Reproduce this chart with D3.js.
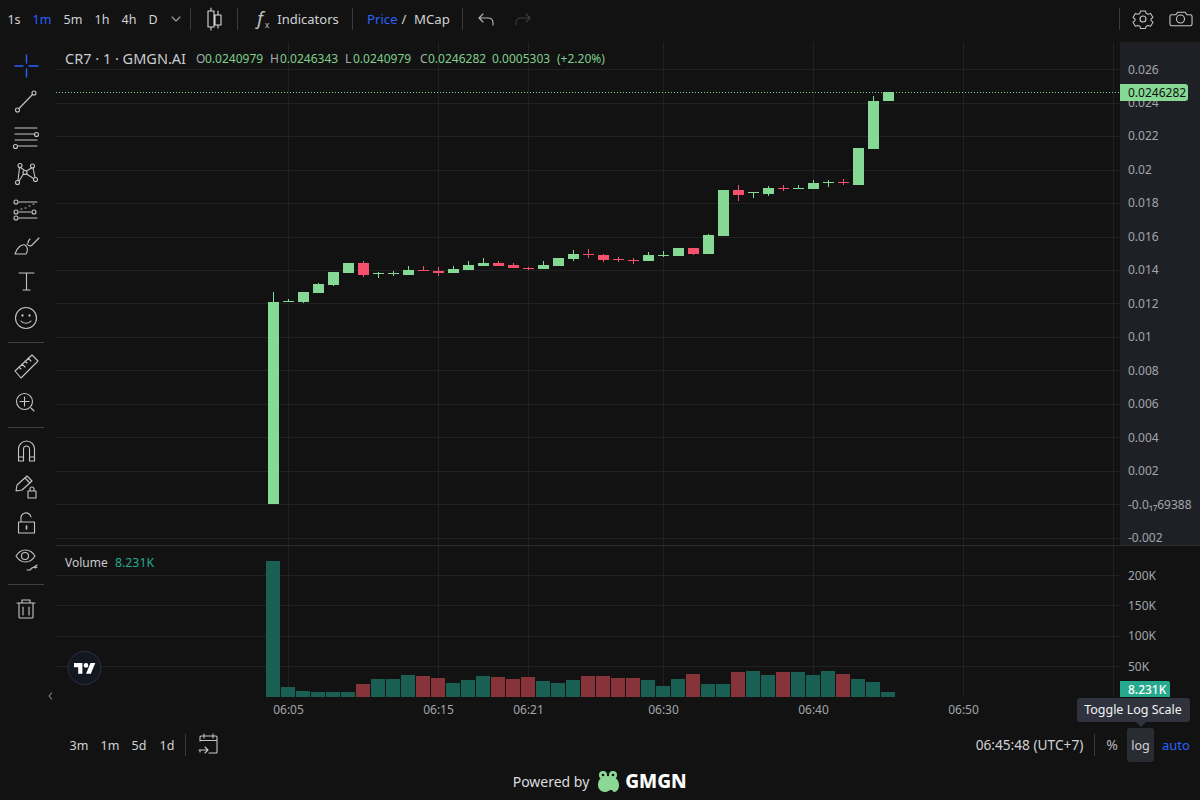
<!DOCTYPE html>
<html><head><meta charset="utf-8">
<script src="https://cdn.jsdelivr.net/npm/d3@7"></script>
<style>
html,body{margin:0;padding:0;background:#121212;overflow:hidden}
svg{display:block}
text{font-family:"Noto Sans",sans-serif}
.crisp{shape-rendering:crispEdges}
</style></head><body>
<svg id="c" width="1200" height="800"></svg>
<script>
// ---------- data ----------
const times = ["06:04","06:05","06:06","06:07","06:08","06:09","06:10","06:11","06:12","06:13","06:14","06:15","06:16","06:17","06:18","06:19","06:20","06:21","06:22","06:23","06:24","06:25","06:26","06:27","06:28","06:29","06:30","06:31","06:32","06:33","06:34","06:35","06:36","06:37","06:38","06:39","06:40","06:41","06:42","06:43","06:44","06:45"];
const opens  = [-6.9388e-19,.012104,.012104,.012641,.013119,.013837,.014434,.013777,.013777,.013717,.014016,.013956,.013837,.014016,.014255,.014434,.014315,.014136,.014076,.014255,.014674,.014972,.014913,.014674,.014614,.014554,.014853,.014853,.015331,.014972,.016048,.018798,.018618,.018559,.018917,.018897,.018857,.019216,.019236,.019097,.021249,.0240979];
const highs  = [.012701,.012283,.012701,.013239,.013897,.014434,.014554,.013897,.013956,.014255,.014255,.014195,.014255,.014554,.014733,.014554,.014434,.014195,.014554,.014733,.015212,.015271,.014972,.014793,.014733,.015092,.015152,.015331,.015331,.016168,.018798,.019097,.018678,.019037,.019097,.019097,.019395,.019395,.019455,.021308,.024417,.0246343];
const lows   = [-6.9388e-19,.012074,.012044,.012641,.013060,.013837,.013598,.013538,.013657,.013717,.013986,.013657,.013837,.014016,.014255,.014255,.014136,.014016,.014076,.014255,.014554,.014733,.014494,.014494,.014375,.014554,.014793,.014853,.014913,.014972,.016048,.018140,.018320,.018439,.018738,.018897,.018857,.018977,.019097,.019097,.021249,.0240979];
const closes = [.012104,.012163,.012701,.013179,.013897,.014434,.013717,.013797,.013797,.014016,.013986,.013837,.014076,.014315,.014434,.014255,.014136,.014076,.014315,.014733,.014972,.014913,.014614,.014614,.014554,.014913,.014883,.015331,.014972,.016108,.018798,.018499,.018638,.018917,.018897,.018917,.019216,.019236,.019216,.021308,.024118,.0246282];
const volumes = [224000,16000,9400,7700,7700,7700,21000,29000,29000,36000,34000,31000,22500,27500,34000,32500,29000,32500,26000,22500,27500,34500,34500,31500,31500,28000,18000,30000,38000,21500,21500,41000,43000,36000,41000,41000,36000,43000,38000,30000,25000,8231];
const priceTicks = [.026,.024,.022,.02,.018,.016,.014,.012,.01,.008,.006,.004,.002,-6.9388e-19,-.002];
const priceTickLabels = ["0.026","0.024","0.022","0.02","0.018","0.016","0.014","0.012","0.01","0.008","0.006","0.004","0.002","-0.0₁₇69388","-0.002"];
const volumeTicks = [50000,100000,150000,200000];
const volumeTickLabels = ["50K","100K","150K","200K"];
const timeTicks = ["06:05","06:15","06:21","06:30","06:40","06:50"];
const gridOnlyTimes = ["07:00"];
const lastPriceLabel = "0.0246282", lastVolumeLabel = "8.231K";
const intervals = ["1s","1m","5m","1h","4h","D"];
const ranges = ["3m","1m","5d","1d"];

// ---------- scales ----------
const UP="#86d994", DOWN="#f7506d", VUP="#1a5f53", VDOWN="#86333a", GRID="#212121", TXT="#a3a5ab", BLUE="#2962ff", LIGHT="#d1d2d6";
const mins = s => { const [h,m]=s.split(":").map(Number); return h*60+m; };
const x = d3.scaleLinear().domain([mins("06:05"),mins("06:50")]).range([288,963]);
const y = d3.scaleLinear().domain([-.002,.026]).range([537.66,69.22]);
const vy = d3.scaleLinear().domain([0,200000]).range([697,575.2]);
const svg = d3.select("#c");
const bars = times.map((t,i)=>({t:mins(t),o:opens[i],h:highs[i],l:lows[i],c:closes[i],v:volumes[i],up:closes[i]>=opens[i]}));

// ---------- panels ----------
svg.append("rect").attr("width",1200).attr("height",800).attr("fill","#121212");
svg.append("rect").attr("class","crisp").attr("x",1120).attr("y",42).attr("width",80).attr("height",503).attr("fill","#1e2025");

// grid
const grid = svg.append("g").attr("class","crisp").attr("stroke",GRID);
[...timeTicks,...gridOnlyTimes].forEach(t=>{
  const px=Math.round(x(mins(t)))+.5;
  grid.append("line").attr("x1",px).attr("x2",px).attr("y1",42).attr("y2",697);
});
priceTicks.forEach(v=>{
  const py=Math.round(y(v))+.5;
  grid.append("line").attr("x1",56).attr("x2",1120).attr("y1",py).attr("y2",py);
});
volumeTicks.forEach(v=>{
  const py=Math.floor(vy(v))+.5;
  grid.append("line").attr("x1",56).attr("x2",1120).attr("y1",py).attr("y2",py);
});
svg.append("line").attr("class","crisp").attr("x1",56).attr("x2",1200).attr("y1",545.5).attr("y2",545.5).attr("stroke","#2e2e2e");

// volume
svg.append("g").attr("class","crisp").selectAll("rect").data(bars).join("rect")
  .attr("x",d=>Math.round(x(d.t))-7).attr("width",14)
  .attr("y",d=>Math.round(vy(d.v))).attr("height",d=>697-Math.round(vy(d.v)))
  .attr("fill",d=>d.up?VUP:VDOWN);

// candles
const cg = svg.append("g").attr("class","crisp");
cg.selectAll("rect.w").data(bars).join("rect").attr("class","w")
  .attr("x",d=>Math.round(x(d.t))).attr("width",1)
  .attr("y",d=>Math.round(y(d.h))).attr("height",d=>Math.max(1,Math.round(y(d.l))-Math.round(y(d.h))))
  .attr("fill",d=>d.up?UP:DOWN);
cg.selectAll("rect.b").data(bars).join("rect").attr("class","b")
  .attr("x",d=>Math.round(x(d.t))-5).attr("width",11)
  .attr("y",d=>Math.round(y(Math.max(d.o,d.c))))
  .attr("height",d=>Math.max(1,Math.round(y(Math.min(d.o,d.c)))-Math.round(y(Math.max(d.o,d.c)))))
  .attr("fill",d=>d.up?UP:DOWN);

// last price line
const lastY = y(closes[closes.length-1]);
svg.append("line").attr("class","crisp").attr("x1",56).attr("x2",1120).attr("y1",Math.floor(lastY)+.5).attr("y2",Math.floor(lastY)+.5)
  .attr("stroke",UP).attr("stroke-dasharray","1,2");

// axes
function styleAxis(g){ g.select(".domain").remove(); g.selectAll(".tick line").remove();
  g.selectAll("text").attr("fill",TXT).attr("font-size",12).attr("font-family",'"Noto Sans",sans-serif'); }
svg.append("g").attr("transform","translate(1120,0)")
  .call(d3.axisRight(y).tickValues(priceTicks).tickFormat((d,i)=>priceTickLabels[i]).tickSize(0).tickPadding(8)).call(styleAxis);
svg.append("g").attr("transform","translate(1120,0)")
  .call(d3.axisRight(vy).tickValues(volumeTicks).tickFormat((d,i)=>volumeTickLabels[i]).tickSize(0).tickPadding(8)).call(styleAxis);
svg.append("g").attr("transform","translate(0,697)")
  .call(d3.axisBottom(x).tickValues(timeTicks.map(mins)).tickFormat((d,i)=>timeTicks[i]).tickSize(0).tickPadding(8)).call(styleAxis);

// last value tags
svg.append("path").attr("d","M1120 84H1185a3 3 0 0 1 3 3V98a3 3 0 0 1 -3 3H1120Z").attr("fill",UP);
svg.append("text").attr("x",1128).attr("y",97).attr("font-size",12).attr("fill","#111").text(lastPriceLabel);
svg.append("path").attr("d","M1120 681H1168a2 2 0 0 1 2 2V697H1120Z").attr("fill","#26a98c");
svg.append("text").attr("x",1128).attr("y",694).attr("font-size",12).attr("font-weight",500).attr("fill","#fff").text(lastVolumeLabel);

// ---------- helpers ----------
function T(txt,xp,yp,o={}){
  return svg.append("text").attr("x",xp).attr("y",yp).attr("font-size",o.s||12.5).attr("fill",o.f||LIGHT)
    .attr("text-anchor",o.a||"middle").attr("font-weight",o.w||400).text(txt);
}
function P(d,o={}){
  return svg.append("path").attr("d",d).attr("fill",o.fill||"none").attr("stroke",o.s||"#c4c5ca").attr("stroke-width",o.w||1.1)
    .attr("stroke-linecap","round").attr("stroke-linejoin","round");
}
function C(cx,cy,r,o={}){
  return svg.append("circle").attr("cx",cx).attr("cy",cy).attr("r",r).attr("fill",o.fill||"none").attr("stroke",o.s||"#c4c5ca").attr("stroke-width",o.w||1.1);
}
function S(xp,y1,y2){ svg.append("line").attr("class","crisp").attr("x1",xp).attr("x2",xp).attr("y1",y1).attr("y2",y2).attr("stroke","#3a3b40"); }
function H(y0){ svg.append("line").attr("class","crisp").attr("x1",8).attr("x2",44).attr("y1",y0).attr("y2",y0).attr("stroke","#3e3f48"); }

// ---------- top toolbar ----------
const ivX=[14,42,73,102,129,153];
intervals.forEach((s,i)=>T(s,ivX[i],24,{f:s==="1m"?BLUE:LIGHT}));
P("M172 17l4 4 4-4",{s:"#a3a5ab"});
S(190.5,8,30);
P("M211 8V11M211 27V30M208 11h6v16h-6zM218 11V15M218 25V28M215 15h6v10h-6z",{s:"#d8d8dc"});
S(237.5,8,30);
T("f",260,25,{s:18,f:"#c4c5ca",a:"middle"}).attr("font-style","italic");
T("x",267,28,{s:8,f:"#c4c5ca"});
T("Indicators",308,24,{s:13});
S(352.5,8,30);
T("Price",367,24,{s:13.2,f:BLUE,a:"start"});
T("/",404,24,{s:13,f:LIGHT});
T("MCap",414,24,{s:13.2,a:"start"});
S(462.5,8,30);
P("M479 18h9c3 0 5 2 5 5v2M479 18l4-4M479 18l4 4",{s:"#b5b6bb"});
P("M530 18h-9c-3 0-5 2-5 5v2M530 18l-4-4M530 18l-4 4",{s:"#3d3e42"});
S(1119.5,8,30);
// gear
P("M1140 9h6l1 3 2.5 1 3-1 3 5-2.5 2v2l2.5 2-3 5-3-1-2.5 1-1 3h-6l-1-3-2.5-1-3 1-3-5 2.5-2v-2l-2.5-2 3-5 3 1 2.5-1z",{s:"#c4c5ca",w:1.3})
  .attr("transform","translate(1143,19) scale(.8) translate(-1143,-19)");
C(1143,19,3);
// camera
P("M1172 13h5l2-3h9l2 3h4a2 2 0 0 1 2 2v9a2 2 0 0 1 -2 2h-22a2 2 0 0 1 -2-2v-9a2 2 0 0 1 2-2z",{s:"#c4c5ca",w:1.3})
  .attr("transform","translate(1181,19) scale(.85) translate(-1183,-18)");
C(1180.500,19,4);

// ---------- legend ----------
const leg = svg.append("text").attr("x",65).attr("y",64).attr("font-size",14.5);
leg.append("tspan").attr("fill","#c9cace").text("CR7 · 1 · GMGN.AI");
const lg2 = svg.append("text").attr("y",63).attr("font-size",12);
[["O",196,"#a9abb0"],["0.0240979",205,"#7fcf8c"],["H",270,"#a9abb0"],["0.0246343",280,"#7fcf8c"],["L",345,"#a9abb0"],["0.0240979",353,"#7fcf8c"],["C",420,"#a9abb0"],["0.0246282",428,"#7fcf8c"],["0.0005303",492,"#7fcf8c"],["(+2.20%)",557,"#7fcf8c"]]
 .forEach(([t,xp,f])=>lg2.append("tspan").attr("x",xp).attr("fill",f).text(t));
T("Volume",65,567,{a:"start",s:12,f:"#c9cace"});
T("8.231K",115,567,{a:"start",s:12.300,f:"#26a98c"});

// ---------- left toolbar ----------
P("M15 66h8M29 66h9M26.500 55v8M26.500 69v8",{s:BLUE,w:1.4});
C(17.500,110,2);C(34,93,2);P("M19 108.500L32.500 94.500");
P("M15 128h22M15 134h20M15 140h22M18 146h19");C(36.500,134.500,2);C(15.500,146.500,2);
[[20,165.500],[32.500,166],[17.500,182.500],[35.500,179.500],[25,172.500]].forEach(p=>C(p[0],p[1],2));
P("M19.500 167.500L18 180.500M20.500 167.500L24.500 170.500M31.500 168L26.500 171M33 168L35 177.500M23.500 174L19 181M26.500 174L33.500 178.500");
P("M19 202h18M19 212h12M19 218h18");C(16,202,2);C(16,212,2);C(34,212,2);C(16,218,2);P("M21 209h1M25 208h1M29 206h1M33 204h1");
P("M15 254h11c2-3 2-7-1-9-3-1-8 2-10 9zM27 244c2 3 5 2 6 0l6-6M28 243c0-2 1-3 2-4");
P("M19 273h15M26.500 273v17M23 290h7");
C(26,318,10.500);C(22.500,315.500,.6);C(29.500,315.500,.6);P("M21 321c2 3 8 3 10 0");
H(342.500);
P("M15 371l17-16 6 6-17 17zM19 367l2 2M22 364l3 3M25 361l2 2M28 358l3 3");
C(24.500,401.500,8);P("M24.500 397v9M20 401.500h9M31 408l3 3");
H(427.500);
P("M18.500 461v-12a8 8 0 0 1 16 0v12h-5v-12a3 3 0 0 0 -6 0v12zM18.500 457h5M29.500 457h5");
P("M16 491l1-6 10-9 5 5-10 9zM25 478l5 5");
P("M28 498v-7h8v7zM30 491v-2a2 2 0 0 1 4 0v2");
P("M18.500 522h16v11h-16zM21 522v-3a5 5 0 0 1 10 -2");
P("M26.500 526v3",{w:1.6});
P("M16 556c5-8 14-8 19 0-5 8-14 8-19 0z");C(25,556,3.500);
P("M27 570h3l2-2c1-1 3-1 3 0l2-1M34 567l3-2");
H(584.500);
P("M17 603h18M22 603v-3h8v3M19 603v14a1 1 0 0 0 1 1h12a1 1 0 0 0 1-1v-14M23 607v8M29 607v8");

// TV logo & collapse
C(84.500,668,16.500,{fill:"#131722",s:"#2e3240",w:1});
svg.append("path").attr("transform","translate(74,660.600) scale(.6)")
  .attr("d","M14 22H7V11H0V4h14v18zM28 22h-8l7.500-18h8L28 22z").attr("fill","#fff");
svg.append("circle").attr("cx",86).attr("cy",665.400).attr("r",2.300).attr("fill","#fff");
P("M51.500 693l-2.500 3 2.500 3",{s:"#8a8b90"});

// ---------- bottom bar ----------
const rangeX=[79,110,139,167];
ranges.forEach((s,i)=>T(s,rangeX[i],750,{s:12.5}));
S(185.500,734,756);
P("M200 752v-2M200 741v-4a1 1 0 0 1 1-1h15a1 1 0 0 1 1 1v15a1 1 0 0 1 -1 1h-7M200 740.500h17M204 734v4M213 734v4M199 750h9M205 747l3 3-3 3",{s:"#c4c5ca"});
T("06:45:48 (UTC+7)",1029.500,750,{s:13.700});
S(1094.500,734,756);
T("%",1112,750,{s:14,f:"#b5b6bb"});
svg.append("rect").attr("x",1127).attr("y",728).attr("width",27).attr("height",34).attr("rx",3).attr("fill","#2a2c33");
T("log",1140.500,750,{s:12.500});
T("auto",1176,750,{s:13,f:BLUE});
// tooltip
svg.append("path").attr("d","M1080 698H1187a3 3 0 0 1 3 3V719a3 3 0 0 1 -3 3H1146l-5 5-5-5H1080a3 3 0 0 1 -3-3V701a3 3 0 0 1 3-3z").attr("fill","#30323d");
T("Toggle Log Scale",1133,714,{s:12.500,f:"#f2f2f4"});
// powered by
T("Powered by",551,787,{s:14,f:"#dcdcdf"});
const frog=svg.append("g").attr("fill","#8bd896");
frog.append("path").attr("d","M598 785c0-6 4-9 10-9s11 3 11 9c0 4-2 7-5 7-1 0-1-2-3-2s-3 2-6 2c-4 0-7-3-7-7z");
frog.append("circle").attr("cx",603).attr("cy",775).attr("r",4);
frog.append("circle").attr("cx",613).attr("cy",775).attr("r",4);
svg.append("circle").attr("cx",603).attr("cy",775).attr("r",1.300).attr("fill","#121212");
svg.append("circle").attr("cx",613).attr("cy",775).attr("r",1.300).attr("fill","#121212");
T("GMGN",656,788,{s:19,f:"#fff",w:800});
</script>
</body></html>
